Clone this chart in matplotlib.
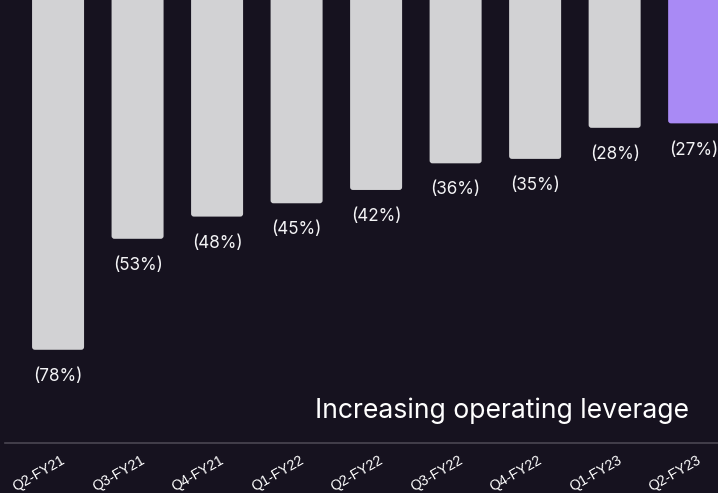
import matplotlib.pyplot as plt
import matplotlib.transforms as mtransforms
from matplotlib.patches import FancyBboxPatch

quarters = ["Q2-FY21", "Q3-FY21", "Q4-FY21", "Q1-FY22", "Q2-FY22",
            "Q3-FY22", "Q4-FY22", "Q1-FY23", "Q2-FY23"]
margins = [78, 53, 48, 45, 42, 36, 35, 28, 27]
labels = ["(78%)", "(53%)", "(48%)", "(45%)", "(42%)",
          "(36%)", "(35%)", "(28%)", "(27%)"]

BG = "#16121f"
GREY = "#d2d2d4"
PURPLE = "#a98af5"

fig = plt.figure(figsize=(7.18, 4.93), dpi=100, facecolor=BG)
ax = fig.add_axes([0.007, 0.1014, 0.993, 0.8986])
ax.set_facecolor(BG)

x = list(range(len(quarters)))
w = 0.654
for i, v in enumerate(margins):
    col = PURPLE if i == len(margins) - 1 else GREY
    # hanging bar, small rounded corners at the bottom
    bar = FancyBboxPatch((i - w / 2, -v), w, v + 10,
                         boxstyle="round,pad=0,rounding_size=0.035",
                         mutation_aspect=18,
                         facecolor=col, edgecolor="none", zorder=2)
    ax.add_patch(bar)
    ax.text(i, -v - 6.0, labels[i], color="#f4f4f6", fontsize=12.3,
            family=["Inter", "DejaVu Sans"], ha="center", va="center")

ax.set_xlim(-0.667, 8.30)
ax.set_ylim(-99.0, 0.79)

ax.text(0.9595, 0.056, "Increasing operating leverage", transform=ax.transAxes,
        color="white", fontsize=19.1, family=["Inter", "DejaVu Sans"],
        ha="right", va="baseline")

ax.set_yticks([])
ax.set_xticks(x)
ax.set_xticklabels(quarters, rotation=30, ha="right", rotation_mode="anchor",
                   color="white", fontsize=10.3,
                   family=["Liberation Sans", "DejaVu Sans"])
ax.tick_params(axis="x", length=0, pad=7)
shift = mtransforms.ScaledTranslation(0.025, 0, fig.dpi_scale_trans)
for lab in ax.get_xticklabels():
    lab.set_transform(lab.get_transform() + shift)
for s in ["top", "left", "right"]:
    ax.spines[s].set_visible(False)
ax.spines["bottom"].set_color("#4a4652")
ax.spines["bottom"].set_linewidth(1.2)

fig.savefig("out.png", dpi=100, facecolor=BG)
